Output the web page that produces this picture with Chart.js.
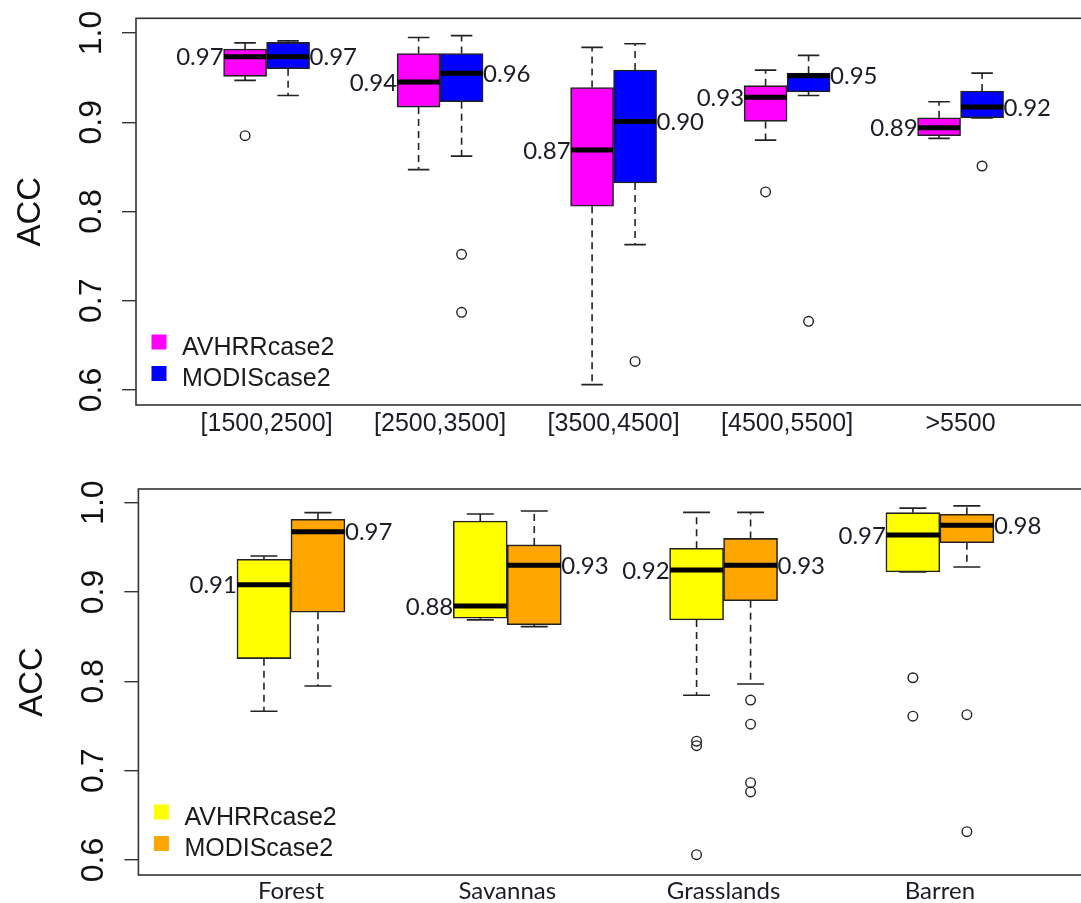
<!DOCTYPE html>
<html><head><meta charset="utf-8">
<script src="https://cdn.jsdelivr.net/npm/chart.js@4.4.1/dist/chart.umd.min.js"></script>
<style>
html,body{margin:0;padding:0;background:#fff;overflow:hidden;width:1081px;height:903px;}
#c1{position:absolute;left:0;top:0;}
#c2{position:absolute;left:0;top:452px;}
</style></head><body>
<canvas id="c1" width="1100" height="452"></canvas>
<canvas id="c2" width="1100" height="451"></canvas>
<script>
// ---------- DATA ----------
const seriesNames = ['AVHRRcase2', 'MODIScase2'];
const yTickValues = [0.6, 0.7, 0.8, 0.9, 1.0];

// Panel 1: elevation bins
const elevBins      = ['[1500,2500]', '[2500,3500]', '[3500,4500]', '[4500,5500]', '>5500'];
const avhrrElevLow  = [0.947, 0.847, 0.606, 0.880, 0.882];
const avhrrElevQ1   = [0.9515, 0.917, 0.806, 0.901, 0.885];
const avhrrElevMed  = [0.9735, 0.945, 0.869, 0.928, 0.894];
const avhrrElevQ3   = [0.982, 0.977, 0.939, 0.941, 0.905];
const avhrrElevHigh = [0.989, 0.995, 0.984, 0.9585, 0.923];
const avhrrElevOut  = [[0.885], [], [], [0.822], []];
const avhrrElevText = ['0.97', '0.94', '0.87', '0.93', '0.89'];
const modisElevLow  = [0.930, 0.862, 0.763, 0.930, 0.905];
const modisElevQ1   = [0.960, 0.923, 0.832, 0.934, 0.905];
const modisElevMed  = [0.9735, 0.955, 0.901, 0.952, 0.917];
const modisElevQ3   = [0.9895, 0.977, 0.9585, 0.955, 0.935];
const modisElevHigh = [0.9912, 0.997, 0.988, 0.975, 0.955];
const modisElevOut  = [[], [0.752, 0.687], [0.632], [0.677], [0.851]];
const modisElevText = ['0.97', '0.96', '0.90', '0.95', '0.92'];

// Panel 2: land cover
const landCovers  = ['Forest', 'Savannas', 'Grasslands', 'Barren'];
const avhrrLcLow  = [0.7665, 0.8687, 0.7844, 0.9224];
const avhrrLcQ1   = [0.8254, 0.8706, 0.8687, 0.9224];
const avhrrLcMed  = [0.9082, 0.8844, 0.9247, 0.9638];
const avhrrLcQ3   = [0.9366, 0.9795, 0.949, 0.9888];
const avhrrLcHigh = [0.9403, 0.9873, 0.9892, 0.994];
const avhrrLcOut  = [[], [], [0.733, 0.728, 0.606], [0.804, 0.761]];
const avhrrLcText = ['0.91', '0.88', '0.92', '0.97'];
const modisLcLow  = [0.7948, 0.8612, 0.797, 0.928];
const modisLcQ1   = [0.8773, 0.8634, 0.8903, 0.9552];
const modisLcMed  = [0.9675, 0.930, 0.930, 0.9747];
const modisLcQ3   = [0.9814, 0.9527, 0.960, 0.987];
const modisLcHigh = [0.9888, 0.9907, 0.9892, 0.9963];
const modisLcOut  = [[], [], [0.779, 0.752, 0.6866, 0.6762], [0.7627, 0.6317]];
const modisLcText = ['0.97', '0.93', '0.93', '0.98'];

// ---------- LAYOUT / STYLE ----------
const INK = '#222';
const panels = [
  {
    canvas: 'c1', W: 1100, H: 452,
    area: {left: 136, top: 18.3, right: 1090, bottom: 405},
    xMin: -0.7527, xMax: 4.746, yMin: 0.5832, yMax: 1.0165,
    boxPx: 43,
    cats: elevBins,
    xFont: '25px "Liberation Sans"', xLabOff: 26,
    a: {name: seriesNames[0], color: '#FF00FF', lo: avhrrElevLow, q1: avhrrElevQ1, med: avhrrElevMed, q3: avhrrElevQ3, hi: avhrrElevHigh, out: avhrrElevOut, text: avhrrElevText},
    b: {name: seriesNames[1], color: '#0000FF', lo: modisElevLow, q1: modisElevQ1, med: modisElevMed, q3: modisElevQ3, hi: modisElevHigh, out: modisElevOut, text: modisElevText}
  },
  {
    canvas: 'c2', W: 1100, H: 451,
    area: {left: 138.4, top: 37, right: 1090, bottom: 423},
    xMin: -0.7053, xMax: 3.694, yMin: 0.5832, yMax: 1.0153,
    boxPx: 54,
    cats: landCovers,
    xFont: '24px Lato', xLabOff: 23.7,
    a: {name: seriesNames[0], color: '#FFFF00', lo: avhrrLcLow, q1: avhrrLcQ1, med: avhrrLcMed, q3: avhrrLcQ3, hi: avhrrLcHigh, out: avhrrLcOut, text: avhrrLcText},
    b: {name: seriesNames[1], color: '#FFA500', lo: modisLcLow, q1: modisLcQ1, med: modisLcMed, q3: modisLcQ3, hi: modisLcHigh, out: modisLcOut, text: modisLcText}
  }
];

function makeDecor(p, xA, xB) {
  return {
    id: 'decor',
    afterDraw(chart) {
      const ctx = chart.ctx, a = chart.chartArea, xs = chart.scales.x, ys = chart.scales.y;
      ctx.save();
      // frame
      ctx.strokeStyle = '#333'; ctx.lineWidth = 1.6;
      ctx.strokeRect(a.left, a.top, a.right - a.left, a.bottom - a.top);
      // median value labels
      ctx.font = '24px Lato'; ctx.fillStyle = '#1c1c28'; ctx.textBaseline = 'alphabetic';
      p.cats.forEach((c, i) => {
        ctx.textAlign = 'right';
        ctx.fillText(p.a.text[i], xs.getPixelForValue(xA[i]) - p.boxPx / 2, ys.getPixelForValue(p.a.med[i]) + 8.6);
        ctx.textAlign = 'left';
        ctx.fillText(p.b.text[i], xs.getPixelForValue(xB[i]) + p.boxPx / 2, ys.getPixelForValue(p.b.med[i]) + 8.6);
      });
      // y tick labels (rotated, as in R)
      ctx.fillStyle = '#111';
      ctx.font = '32px "Liberation Sans"'; ctx.textAlign = 'center';
      yTickValues.forEach(v => {
        ctx.save();
        ctx.translate(a.left - 35, ys.getPixelForValue(v));
        ctx.rotate(-Math.PI / 2);
        ctx.fillText(v.toFixed(1), 0, 0);
        ctx.restore();
      });
      // axis title
      ctx.save();
      ctx.font = '33px "Liberation Sans"';
      ctx.translate(a.left - 96, (a.top + a.bottom) / 2);
      ctx.rotate(-Math.PI / 2);
      ctx.fillText('ACC', 0, 0);
      ctx.restore();
      // x category labels
      ctx.font = p.xFont; ctx.fillStyle = '#1c1c28'; ctx.textAlign = 'center';
      p.cats.forEach((c, i) => ctx.fillText(c, xs.getPixelForValue(i), a.bottom + p.xLabOff));
      // legend
      ctx.font = '25px "Liberation Sans"'; ctx.textAlign = 'left';
      [p.a, p.b].forEach((s, k) => {
        const top = a.bottom - 70.5 + k * 31.5;
        ctx.fillStyle = s.color;
        ctx.fillRect(a.left + 15.5, top, 15, 15);
        ctx.fillStyle = '#1a1a1a';
        ctx.fillText(s.name, a.left + 46, a.bottom - 50 + k * 30.5);
      });
      ctx.restore();
    }
  };
}

function buildPanel(p) {
  const pxPerUnit = (p.area.right - p.area.left) / (p.xMax - p.xMin);
  const off = p.boxPx / 2 / pxPerUnit;
  const xA = p.cats.map((_, i) => i - off);
  const xB = p.cats.map((_, i) => i + off);
  const datasets = [];
  [[p.a, xA], [p.b, xB]].forEach(([s, xc]) => {
    datasets.push({
      type: 'bar', label: s.name,
      data: xc.map((x, i) => ({x, y: [s.q1[i], s.q3[i]]})),
      backgroundColor: s.color, borderColor: INK, borderWidth: 1.6, borderSkipped: false,
      barThickness: p.boxPx, grouped: false, order: 5
    });
    const wh = [];
    xc.forEach((x, i) => {
      wh.push({x, y: s.q3[i]}, {x, y: s.hi[i]}, {x, y: null}, {x, y: s.q1[i]}, {x, y: s.lo[i]}, {x, y: null});
    });
    datasets.push({
      type: 'line', data: wh, borderColor: INK, borderWidth: 1.6, borderDash: [7, 5],
      pointRadius: 0, fill: false, spanGaps: false, order: 6
    });
    const caps = [];
    xc.forEach((x, i) => { caps.push({x, y: s.hi[i]}, {x, y: s.lo[i]}); });
    datasets.push({
      type: 'line', showLine: false, data: caps, pointStyle: 'line', pointRadius: p.boxPx / 4,
      pointBorderWidth: 1.7, pointBorderColor: INK, order: 3
    });
    datasets.push({
      type: 'line', showLine: false, data: xc.map((x, i) => ({x, y: s.med[i]})),
      pointStyle: 'line', pointRadius: p.boxPx / 2 - 0.5, pointBorderWidth: 5, pointBorderColor: '#000', order: 1
    });
    const outs = [];
    xc.forEach((x, i) => s.out[i].forEach(v => outs.push({x, y: v})));
    datasets.push({
      type: 'line', showLine: false, data: outs, pointStyle: 'circle', pointRadius: 4.8,
      pointBorderWidth: 1.4, pointBorderColor: INK, pointBackgroundColor: 'rgba(0,0,0,0)', order: 2
    });
  });

  new Chart(document.getElementById(p.canvas), {
    type: 'bar',
    data: {datasets},
    options: {
      responsive: false, animation: false, events: [], devicePixelRatio: 1,
      layout: {autoPadding: false, padding: {left: 0, top: p.area.top, right: p.W - p.area.right, bottom: 0}},
      plugins: {legend: {display: false}, tooltip: {enabled: false}},
      scales: {
        x: {
          type: 'linear', min: p.xMin, max: p.xMax, offset: false,
          grid: {display: false}, border: {display: false}, ticks: {display: false},
          afterFit(s) { s.height = p.H - p.area.bottom; }
        },
        y: {
          type: 'linear', min: p.yMin, max: p.yMax,
          grid: {display: true, drawOnChartArea: false, drawTicks: true, tickLength: 14, color: '#333', lineWidth: 1.4},
          border: {display: false}, ticks: {display: false},
          afterBuildTicks(s) { s.ticks = yTickValues.map(v => ({value: v})); },
          afterFit(s) { s.width = p.area.left; }
        }
      }
    },
    plugins: [makeDecor(p, xA, xB)]
  });
}

panels.forEach(buildPanel);
</script>
</body></html>
